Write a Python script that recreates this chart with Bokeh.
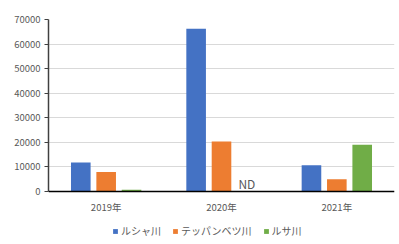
from bokeh.plotting import figure
from bokeh.models import ColumnDataSource, FactorRange, Range1d, Legend, LegendItem, NumeralTickFormatter, FixedTicker, Span
from bokeh.transform import dodge
from bokeh.core.properties import value
from bokeh.embed import file_html
from bokeh.resources import INLINE

years = ["2019年", "2020年", "2021年"]
series_names = ["ルシャ川", "テッパンベツ川", "ルサ川"]
rusha = [11800, 66200, 10700]
teppanbetsu = [7900, 20300, 5000]
rusa = [700, float("nan"), 19000]
nd_year = ["2020年"]
nd_text = ["ND"]
y_ticks = [0, 10000, 20000, 30000, 40000, 50000, 60000, 70000]
colors = ["#4472C4", "#ED7D31", "#70AD47"]

FONT = "Noto Sans CJK JP"
TXT = "#595959"

# layout (pixels)
PLOT_H = 172      # height of the 0..max value area
BELOW_H = 52      # room under the zero line for category labels and legend
y_max = y_ticks[-1]
y_min = -y_max * BELOW_H / PLOT_H

src = ColumnDataSource(dict(year=years, rusha=rusha, teppan=teppanbetsu, rusa=rusa))
nd_src = ColumnDataSource(dict(year=nd_year, y=[0], text=nd_text))
lab_src = ColumnDataSource(dict(year=years, y=[0] * len(years)))

p = figure(frame_width=346, frame_height=PLOT_H + BELOW_H, x_range=FactorRange(*years, range_padding=0),
           y_range=Range1d(y_min, y_max), output_backend="svg", toolbar_location=None,
           min_border_left=48, min_border_right=5, min_border_top=19, min_border_bottom=0)
p.outline_line_color = None
p.background_fill_color = "white"
p.border_fill_color = "white"

offs = [-0.22, 0.0, 0.22]
cols = ["rusha", "teppan", "rusa"]
renderers = []
for c, o, col in zip(cols, offs, colors):
    r = p.vbar(x=dodge("year", o, range=p.x_range), top=c, width=0.17, source=src,
               fill_color=col, line_color=None)
    renderers.append(r)

p.text(x=dodge("year", 0.22, range=p.x_range), y="y", text="text", source=nd_src,
       text_font=value(FONT), text_font_size="12px", text_color=TXT,
       text_align="center", text_baseline="bottom")

# category labels under the zero line
p.text(x="year", y="y", text="year", source=lab_src,
       text_font=value(FONT), text_font_size="9.5px", text_color=TXT,
       text_align="center", text_baseline="middle", y_offset=15)

# zero line (x axis)
p.add_layout(Span(location=0, dimension="width", line_color="black", line_width=1.5))

# y axis
p.yaxis.ticker = FixedTicker(ticks=y_ticks)
p.yaxis.bounds = (0, y_max)
p.yaxis.formatter = NumeralTickFormatter(format="0")
p.yaxis.axis_line_color = "#404040"
p.yaxis.axis_line_width = 1.5
p.yaxis.major_tick_out = 4
p.yaxis.major_tick_in = 0
p.yaxis.major_tick_line_color = "#404040"
p.yaxis.minor_tick_line_color = None
p.yaxis.major_label_standoff = 4
p.yaxis.major_label_text_font = FONT
p.yaxis.major_label_text_font_size = "9.5px"
p.yaxis.major_label_text_color = TXT

p.xaxis.visible = False
p.xgrid.grid_line_color = None
p.ygrid.grid_line_color = "#d9d9d9"
p.ygrid.grid_line_width = 1

legend = Legend(items=[LegendItem(label=n, renderers=[r]) for n, r in zip(series_names, renderers)],
                orientation="horizontal", location=(64, 5),
                glyph_width=6, glyph_height=6, label_standoff=3, spacing=11,
                padding=3, margin=0, border_line_color=None, background_fill_alpha=0,
                label_height=10, label_width=10,
                label_text_font=FONT, label_text_font_size="10px", label_text_color=TXT)
p.add_layout(legend, "center")

open("out.html", "w").write(file_html(p, INLINE))
